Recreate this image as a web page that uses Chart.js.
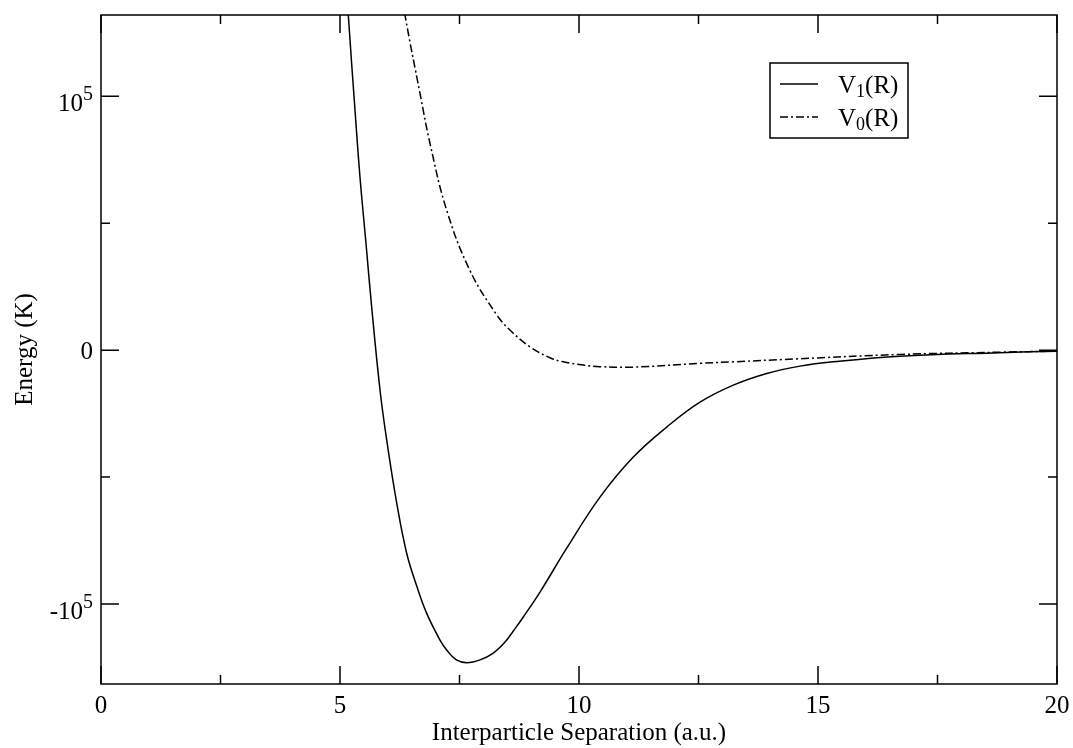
<!DOCTYPE html>
<html>
<head>
<meta charset="utf-8">
<script src="https://cdn.jsdelivr.net/npm/chart.js@4"></script>
<style>
  body { margin: 0; background: #fff; }
  #wrap { width: 1073px; height: 748px; }
</style>
</head>
<body>
<div id="wrap"><canvas id="chart" width="1073" height="748"></canvas></div>
<script>
// V1(R) curve (R in a.u., energy in K)
const sepV1 = [5.063, 5.174, 5.314, 5.418, 5.544, 5.659, 5.837, 5.977, 6.186, 6.395, 6.605, 6.814, 7.092, 7.232, 7.427, 7.651, 7.929, 8.207, 8.452, 8.626, 8.835, 9.184, 9.743, 10.439, 11.136, 11.835, 12.531, 13.228, 13.927, 14.623, 15.32, 16.715, 18.808, 20];
const energyV1 = [165400, 131900, 94500, 68200, 42000, 17700, -15700, -35400, -60200, -80000, -92900, -103700, -114200, -118100, -121900, -123100, -122000, -119300, -115000, -110600, -105100, -95300, -78000, -57900, -42100, -30300, -20500, -13800, -9200, -6300, -4600, -2400, -1000, -400];

// V0(R) curve
const sepV0 = [6.192, 6.36, 6.674, 6.883, 7.232, 7.72, 8.278, 8.556, 8.975, 9.393, 9.672, 10.09, 10.439, 11.136, 12.531, 13.228, 14.483, 16.715, 18.808, 20];
const energyV0 = [151600, 131900, 101100, 81400, 55100, 31300, 13900, 7900, 1300, -3000, -4600, -5900, -6500, -6700, -5200, -4600, -3500, -1700, -800, -400];

const seriesNames = ['V', 'V'];
const seriesSubs = ['1', '0'];
const seriesSuffix = ['(R)', '(R)'];

// axis ticks
const xTickValues = [0, 5, 10, 15, 20];
const xTickLabels = ['0', '5', '10', '15', '20'];
const xMinorTicks = [2.5, 7.5, 12.5, 17.5];
const yTickValues = [-100000, 0, 100000];
const yTickBase = ['-10', '0', '10'];
const yTickExp = ['5', '', '5'];
const yMinorTicks = [-50000, 50000];

const FONT = '"Liberation Serif", "Times New Roman", serif';

function toPoints(xs, ys) {
    return xs.map((x, i) => ({ x: x, y: ys[i] }));
}

// frame, inward ticks, tick labels and legend
const framePlugin = {
    id: 'frame',
    afterDraw(chart) {
        const ctx = chart.ctx;
        const area = chart.chartArea;
        const xs = chart.scales.x;
        const ys = chart.scales.y;
        const major = 18, minor = 9;
        ctx.save();
        ctx.strokeStyle = '#000';
        ctx.lineWidth = 1.5;
        ctx.strokeRect(area.left, area.top, area.right - area.left, area.bottom - area.top);

        ctx.beginPath();
        xTickValues.forEach(v => {
            const px = xs.getPixelForValue(v);
            ctx.moveTo(px, area.bottom); ctx.lineTo(px, area.bottom - major);
            ctx.moveTo(px, area.top); ctx.lineTo(px, area.top + major);
        });
        xMinorTicks.forEach(v => {
            const px = xs.getPixelForValue(v);
            ctx.moveTo(px, area.bottom); ctx.lineTo(px, area.bottom - minor);
            ctx.moveTo(px, area.top); ctx.lineTo(px, area.top + minor);
        });
        yTickValues.forEach(v => {
            const py = ys.getPixelForValue(v);
            ctx.moveTo(area.left, py); ctx.lineTo(area.left + major, py);
            ctx.moveTo(area.right, py); ctx.lineTo(area.right - major, py);
        });
        yMinorTicks.forEach(v => {
            const py = ys.getPixelForValue(v);
            ctx.moveTo(area.left, py); ctx.lineTo(area.left + minor, py);
            ctx.moveTo(area.right, py); ctx.lineTo(area.right - minor, py);
        });
        ctx.stroke();

        // x tick labels
        ctx.fillStyle = '#000';
        ctx.font = '25px ' + FONT;
        ctx.textAlign = 'center';
        ctx.textBaseline = 'alphabetic';
        xTickValues.forEach((v, i) => {
            ctx.fillText(xTickLabels[i], xs.getPixelForValue(v), area.bottom + 29);
        });

        // y tick labels with exponents
        const rightEdge = area.left - 8;
        yTickValues.forEach((v, i) => {
            const py = ys.getPixelForValue(v);
            ctx.textAlign = 'right';
            if (yTickExp[i]) {
                ctx.font = '20px ' + FONT;
                const ew = ctx.measureText(yTickExp[i]).width;
                ctx.fillText(yTickExp[i], rightEdge, py + 4);
                ctx.font = '25px ' + FONT;
                ctx.fillText(yTickBase[i], rightEdge - ew, py + 15);
            } else {
                ctx.font = '25px ' + FONT;
                ctx.fillText(yTickBase[i], rightEdge, py + 9);
            }
        });

        // legend
        const box = { x: 770, y: 63, w: 138, h: 75 };
        ctx.lineWidth = 1.5;
        ctx.strokeRect(box.x, box.y, box.w, box.h);
        chart.data.datasets.forEach((ds, i) => {
            const rowY = 84 + i * 33;
            ctx.save();
            ctx.lineWidth = ds.borderWidth;
            ctx.setLineDash(ds.borderDash || []);
            ctx.beginPath();
            ctx.moveTo(780, rowY); ctx.lineTo(818, rowY);
            ctx.stroke();
            ctx.restore();
            const base = rowY + 9;
            let tx = 838;
            ctx.textAlign = 'left';
            ctx.font = '25px ' + FONT;
            ctx.fillText(seriesNames[i], tx, base);
            tx += ctx.measureText(seriesNames[i]).width;
            ctx.font = '18px ' + FONT;
            ctx.fillText(seriesSubs[i], tx, base + 4);
            tx += ctx.measureText(seriesSubs[i]).width;
            ctx.font = '25px ' + FONT;
            ctx.fillText(seriesSuffix[i], tx, base);
        });
        ctx.restore();
    }
};

Chart.defaults.font.family = FONT;
Chart.defaults.color = '#000';

new Chart(document.getElementById('chart'), {
    type: 'line',
    data: {
        datasets: [
            {
                label: 'V1(R)',
                data: toPoints(sepV1, energyV1),
                borderColor: '#000',
                borderWidth: 1.5,
                pointRadius: 0,
                tension: 0.4,
                fill: false
            },
            {
                label: 'V0(R)',
                data: toPoints(sepV0, energyV0),
                borderColor: '#000',
                borderWidth: 1.5,
                borderDash: [8, 3, 2, 3],
                pointRadius: 0,
                tension: 0.4,
                fill: false
            }
        ]
    },
    options: {
        responsive: false,
        animation: false,
        layout: { padding: { top: 15, right: 16, left: 0, bottom: 0 } },
        plugins: {
            legend: { display: false },
            tooltip: { enabled: false }
        },
        scales: {
            x: {
                type: 'linear',
                min: 0,
                max: 20,
                grid: { display: false },
                border: { display: false },
                ticks: { display: false, stepSize: 5 },
                title: {
                    display: true,
                    text: 'Interparticle Separation (a.u.)',
                    font: { size: 25 },
                    padding: { top: 0, bottom: 0 }
                },
                afterFit(scale) { scale.height = 64; }
            },
            y: {
                type: 'linear',
                min: -131500,
                max: 132000,
                grid: { display: false },
                border: { display: false },
                ticks: { display: false, stepSize: 50000 },
                title: {
                    display: true,
                    text: 'Energy (K)',
                    font: { size: 25 },
                    padding: { top: 10, bottom: 0 }
                },
                afterFit(scale) { scale.width = 101; }
            }
        }
    },
    plugins: [framePlugin]
});
</script>
</body>
</html>
